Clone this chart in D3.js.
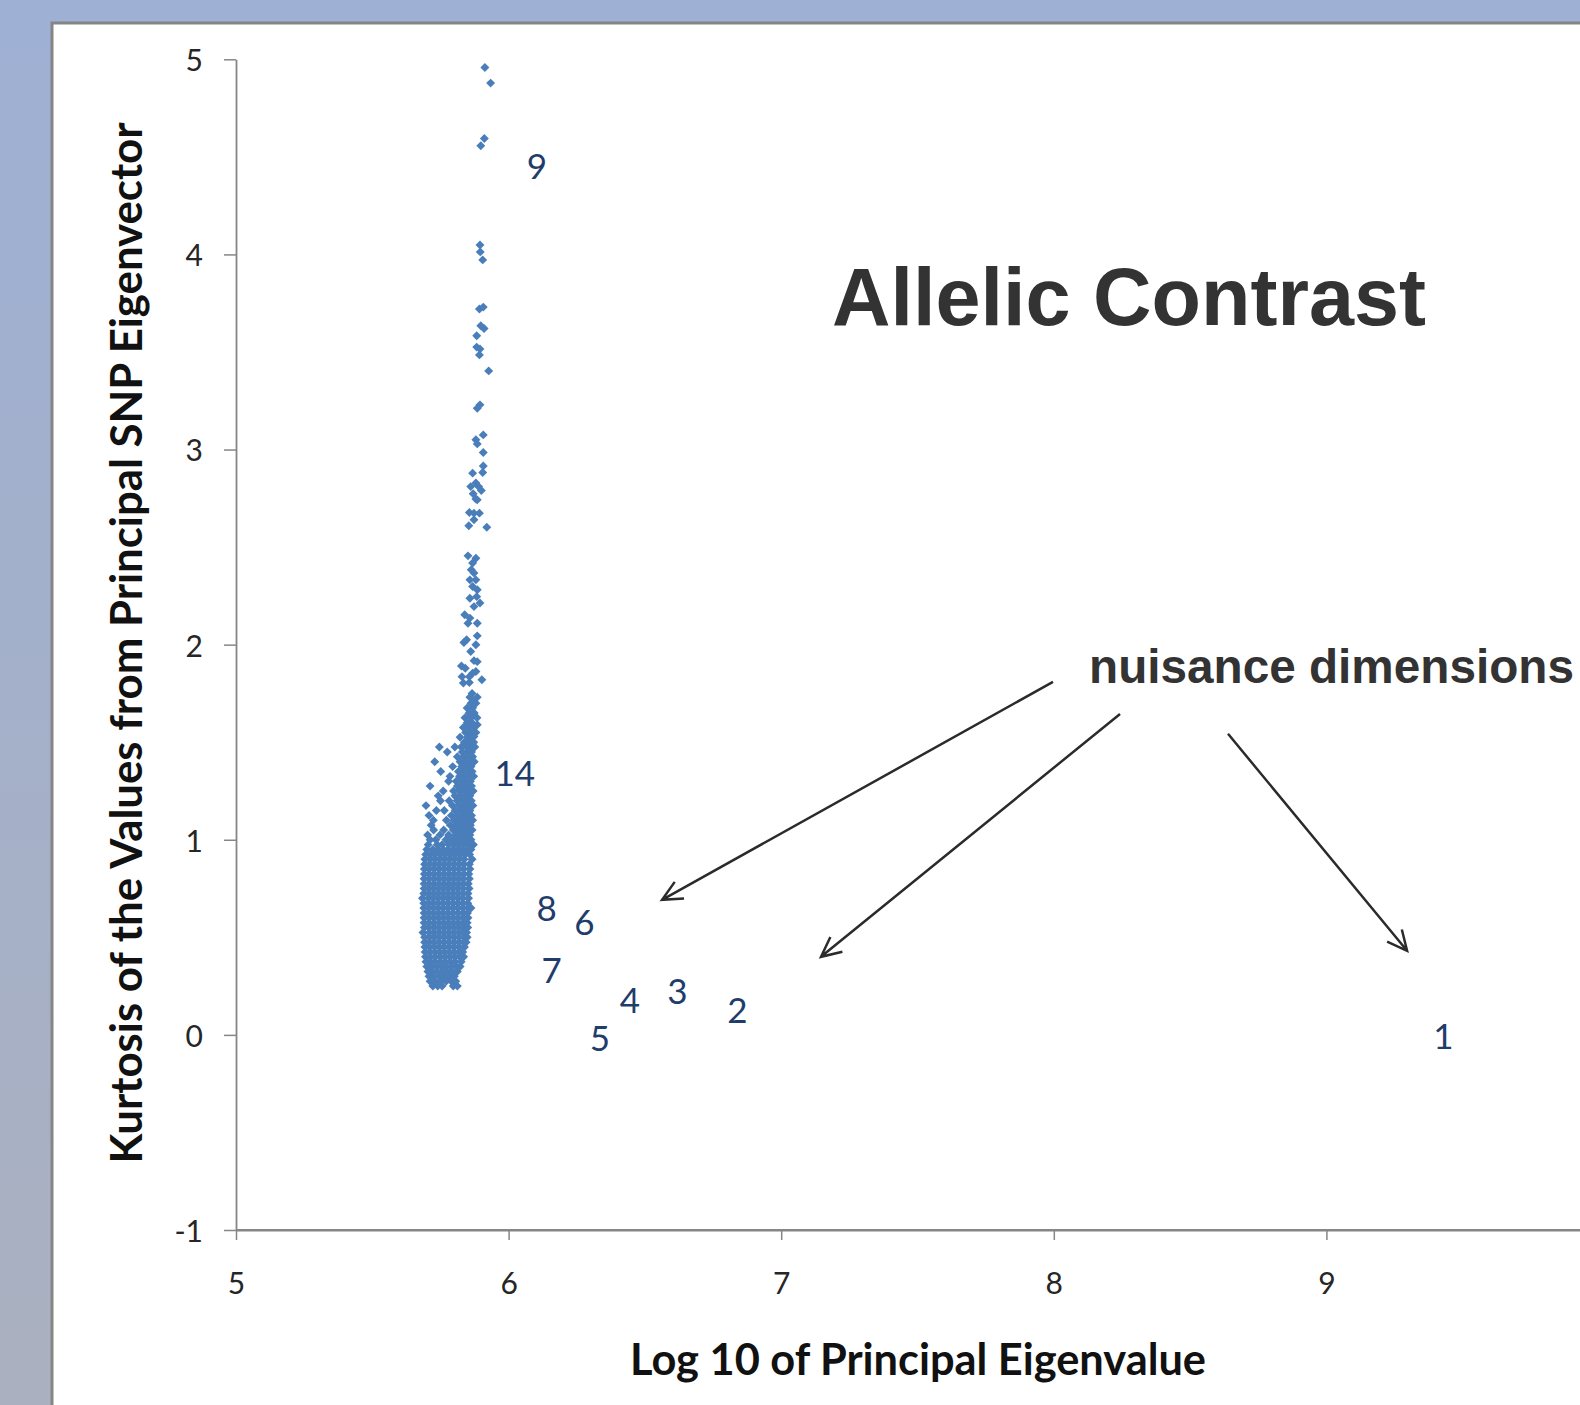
<!DOCTYPE html>
<html>
<head>
<meta charset="utf-8">
<script src="https://cdn.jsdelivr.net/npm/d3@7"></script>
<style>
  html, body { margin: 0; padding: 0; overflow: hidden; }
  svg { display: block; }
</style>
</head>
<body>
<script>
// Log10 eigenvalue vs kurtosis, one diamond per SNP eigenvector.
// Sparse upper tail, read point by point.
const tailPoints = [
  [5.913,4.958],[5.934,4.878],[5.911,4.594],[5.898,4.557],[5.895,4.048],[5.896,4.013],[5.905,3.972],
  [5.893,3.720],[5.907,3.730],[5.898,3.634],[5.910,3.620],[5.883,3.583],[5.883,3.525],[5.895,3.515],
  [5.893,3.485],[5.927,3.403],[5.885,3.212],[5.895,3.229],[5.907,3.075],[5.880,3.050],[5.885,3.029],
  [5.907,2.985],[5.907,2.916],[5.905,2.882],[5.868,2.879],[5.861,2.810],[5.880,2.828],[5.890,2.810],
  [5.900,2.790],[5.870,2.773],[5.880,2.746],[5.885,2.742],[5.856,2.677],[5.873,2.674],[5.893,2.674],
  [5.873,2.640],[5.854,2.609],[5.920,2.602],[5.851,2.455],[5.880,2.443],[5.868,2.418],[5.863,2.384],
  [5.873,2.367],[5.858,2.332],[5.880,2.332],[5.868,2.298],[5.885,2.281],[5.858,2.238],[5.883,2.246],
  [5.895,2.213],[5.873,2.195],[5.839,2.153],[5.858,2.136],[5.885,2.110],[5.851,2.110],[5.885,2.045],
  [5.836,2.011],[5.846,2.025],[5.880,1.999],[5.861,1.965],[5.873,1.918],[5.885,1.913],[5.827,1.891],
  [5.841,1.879],[5.868,1.854],[5.880,1.862],[5.856,1.836],[5.829,1.836],[5.902,1.820],[5.834,1.803],
  [5.856,1.806],[5.858,1.731],[5.885,1.731],[5.871,1.708],[5.858,1.631],[5.846,1.580],[5.885,1.589],
  [5.858,1.546],[5.873,1.529]
];

// Upper part of the cluster: stray points on the left, a dense band on the right.
const bandRows = [
  [0.950, [5.700,5.722,5.741,5.760,5.778,5.797,5.815,5.833,5.851,5.862]],
  [0.975, [5.705,5.738,5.756,5.781,5.800,5.818,5.836,5.853,5.871]],
  [1.000, [5.712,5.733,5.770,5.793,5.811,5.829,5.846,5.862]],
  [1.025, [5.703,5.748,5.780,5.806,5.824,5.842,5.858]],
  [1.050, [5.725,5.762,5.797,5.815,5.833,5.850,5.866]],
  [1.075, [5.716,5.786,5.808,5.826,5.844,5.860]],
  [1.100, [5.724,5.772,5.800,5.818,5.836,5.853,5.868]],
  [1.125, [5.708,5.790,5.812,5.830,5.848,5.864]],
  [1.150, [5.735,5.764,5.804,5.824,5.841,5.858]],
  [1.175, [5.697,5.794,5.817,5.835,5.852,5.869]],
  [1.200, [5.750,5.782,5.811,5.829,5.846,5.863]],
  [1.225, [5.742,5.803,5.823,5.841,5.858]],
  [1.250, [5.760,5.798,5.818,5.836,5.853,5.870]],
  [1.275, [5.712,5.812,5.830,5.848,5.864]],
  [1.300, [5.780,5.808,5.826,5.843,5.860]],
  [1.325, [5.785,5.820,5.838,5.856,5.872]],
  [1.350, [5.751,5.816,5.834,5.851,5.866]],
  [1.375, [5.795,5.828,5.846,5.862]],
  [1.400, [5.729,5.822,5.840,5.858,5.874]],
  [1.425, [5.812,5.835,5.853,5.868]],
  [1.450, [5.775,5.830,5.848,5.864]],
  [1.475, [5.746,5.803,5.826,5.845,5.860,5.876]],
  [1.500, [5.838,5.856,5.872]],
  [1.525, [5.822,5.850,5.866]],
  [1.550, [5.842,5.860,5.880]],
  [1.575, [5.834,5.855,5.872]],
  [1.600, [5.848,5.866]],
  [1.625, [5.840,5.862,5.884]],
  [1.650, [5.855,5.874]],
  [1.675, [5.848,5.868]],
  [1.700, [5.862,5.880]],
  [1.750, [5.866]]
];

// Solid core of the cluster.
const coreRows = [
  [0.250, [5.722,5.740,5.756,5.797,5.812]],
  [0.275, [5.712,5.731,5.752,5.771,5.790,5.806]],
  [0.300, [5.708,5.724,5.745,5.763,5.780,5.801]],
  [0.325, [5.704,5.720,5.738,5.757,5.775,5.792,5.812]],
  [0.350, [5.700,5.717,5.735,5.753,5.770,5.789,5.806,5.822]],
  [0.375, [5.697,5.714,5.731,5.750,5.768,5.786,5.804,5.826]],
  [0.400, [5.695,5.712,5.730,5.748,5.766,5.784,5.802,5.820,5.835]],
  [0.425, [5.694,5.711,5.729,5.747,5.765,5.783,5.801,5.819,5.832]],
  [0.450, [5.693,5.710,5.728,5.746,5.764,5.782,5.800,5.818,5.838]],
  [0.475, [5.692,5.709,5.727,5.745,5.763,5.781,5.799,5.817,5.835,5.844]],
  [0.500, [5.692,5.710,5.728,5.746,5.764,5.782,5.800,5.818,5.836,5.848]],
  [0.525, [5.686,5.709,5.727,5.745,5.763,5.781,5.799,5.817,5.834,5.846]],
  [0.550, [5.691,5.708,5.726,5.744,5.762,5.780,5.798,5.816,5.833,5.850]],
  [0.575, [5.690,5.708,5.726,5.744,5.762,5.780,5.798,5.816,5.834,5.848]],
  [0.600, [5.690,5.707,5.725,5.743,5.761,5.779,5.797,5.815,5.833,5.851]],
  [0.625, [5.690,5.707,5.725,5.743,5.761,5.779,5.797,5.815,5.833,5.849]],
  [0.650, [5.689,5.706,5.724,5.742,5.760,5.778,5.796,5.814,5.832,5.852,5.862]],
  [0.675, [5.689,5.706,5.724,5.742,5.760,5.778,5.796,5.814,5.832,5.850]],
  [0.700, [5.684,5.706,5.724,5.742,5.760,5.778,5.796,5.814,5.832,5.853]],
  [0.725, [5.689,5.707,5.725,5.743,5.761,5.779,5.797,5.815,5.833,5.851]],
  [0.750, [5.690,5.707,5.725,5.743,5.761,5.779,5.797,5.815,5.833,5.855]],
  [0.775, [5.690,5.708,5.726,5.744,5.762,5.780,5.798,5.816,5.834,5.852]],
  [0.800, [5.690,5.708,5.726,5.744,5.762,5.780,5.798,5.816,5.834,5.856]],
  [0.825, [5.691,5.709,5.727,5.745,5.763,5.781,5.799,5.817,5.835,5.854]],
  [0.850, [5.691,5.709,5.727,5.745,5.763,5.781,5.799,5.817,5.835,5.858]],
  [0.875, [5.692,5.710,5.728,5.746,5.764,5.782,5.800,5.818,5.836,5.856]],
  [0.900, [5.693,5.711,5.729,5.747,5.765,5.783,5.801,5.819,5.837,5.866]],
  [0.925, [5.696,5.714,5.731,5.750,5.768,5.786,5.804,5.822,5.840,5.857]]
];

// Rank labels of the leading eigenvectors (text centre in data units).
const rankLabels = ["1", "2", "3", "4", "5", "6", "7", "8", "9", "14"];
const rankX = [9.429, 6.839, 6.619, 6.445, 6.335, 6.278, 6.158, 6.140, 6.104, 6.023];
const rankY = [-0.009, 0.128, 0.222, 0.179, -0.017, 0.576, 0.333, 0.649, 4.450, 1.338];

// Annotation arrows pointing at the nuisance dimensions, [x0, y0, x1, y1].
const arrows = [
  [7.997, 1.809, 6.563, 0.692],
  [8.243, 1.645, 7.146, 0.400],
  [8.639, 1.543, 9.296, 0.431]
];

const xTicks = [5, 6, 7, 8, 9];
const yTicks = [-1, 0, 1, 2, 3, 4, 5];

const width = 1580, height = 1405;

const rowsToPoints = rows => rows.flatMap(([y, xs]) => xs.map(x => [x, y]));
const points = [...rowsToPoints(coreRows), ...rowsToPoints(bandRows), ...tailPoints];

const x = d3.scaleLinear([5, 10], [236, 1599]);
const y = d3.scaleLinear([-1, 5], [1230, 59.3]);

const svg = d3.select("body").append("svg")
    .attr("width", width)
    .attr("height", height)
    .attr("viewBox", [0, 0, width, height]);

const grad = svg.append("defs").append("linearGradient")
    .attr("id", "bg")
    .attr("x1", 0).attr("y1", 0).attr("x2", 0).attr("y2", 1);
grad.append("stop").attr("offset", "0%").attr("stop-color", "#9eb0d4");
grad.append("stop").attr("offset", "100%").attr("stop-color", "#aab0bf");

svg.append("rect")
    .attr("width", width)
    .attr("height", height)
    .attr("fill", "url(#bg)");

// white slide panel, runs off the right and bottom edges
svg.append("rect")
    .attr("x", 52)
    .attr("y", 23)
    .attr("width", 1600)
    .attr("height", 1500)
    .attr("fill", "#fff")
    .attr("stroke", "#858585")
    .attr("stroke-width", 3);

const axisColor = "#868686";
const tickFont = "Lato, 'Open Sans', sans-serif";
const plain = d => String(d);

// x axis line runs on past the right edge, like the cropped original
svg.append("line")
    .attr("x1", x(5)).attr("x2", x(10))
    .attr("y1", y(-1)).attr("y2", y(-1))
    .attr("stroke", axisColor)
    .attr("stroke-width", 1.8);

const gx = svg.append("g")
    .attr("transform", `translate(0,${y(-1)})`)
    .call(d3.axisBottom(x).tickValues(xTicks).tickFormat(plain)
      .tickSize(10).tickSizeOuter(0).tickPadding(33));

const gy = svg.append("g")
    .attr("transform", `translate(${x(5)},0)`)
    .call(d3.axisLeft(y).tickValues(yTicks).tickFormat(plain)
      .tickSize(12).tickSizeOuter(0).tickPadding(21));

for (const g of [gx, gy]) {
  g.select(".domain").attr("stroke", axisColor).attr("stroke-width", 1.8);
  g.selectAll(".tick line").attr("stroke", axisColor).attr("stroke-width", 1.5);
  g.selectAll(".tick text")
      .attr("fill", "#262626")
      .attr("font-family", tickFont)
      .attr("font-size", 30);
}
gy.selectAll(".tick text").attr("dy", "0.38em");

// markers
const diamond = d3.symbol(d3.symbolSquare, 40);
svg.append("g")
    .attr("fill", "#4a7ebb")
  .selectAll("path")
  .data(points)
  .join("path")
    .attr("d", diamond)
    .attr("transform", d => `translate(${x(d[0])},${y(d[1])}) rotate(45)`);

// rank labels
svg.append("g")
    .attr("fill", "#1f3d6b")
    .attr("font-family", tickFont)
    .attr("font-size", 35)
    .attr("text-anchor", "middle")
  .selectAll("text")
  .data(rankLabels)
  .join("text")
    .attr("x", (d, i) => x(rankX[i]))
    .attr("y", (d, i) => y(rankY[i]))
    .attr("dy", "0.36em")
    .text(d => d);

// axis titles
svg.append("text")
    .attr("x", 918)
    .attr("y", 1375)
    .attr("text-anchor", "middle")
    .attr("font-family", tickFont)
    .attr("font-weight", "bold")
    .attr("font-size", 44)
    .attr("fill", "#111")
    .attr("textLength", 576)
    .attr("lengthAdjust", "spacingAndGlyphs")
    .text("Log 10 of Principal Eigenvalue");

svg.append("text")
    .attr("transform", "translate(142,643) rotate(-90)")
    .attr("text-anchor", "middle")
    .attr("font-family", tickFont)
    .attr("font-weight", "bold")
    .attr("font-size", 43)
    .attr("fill", "#111")
    .attr("textLength", 1041)
    .attr("lengthAdjust", "spacingAndGlyphs")
    .text("Kurtosis of the Values from Principal SNP Eigenvector");

// slide title and annotation
svg.append("text")
    .attr("x", 1129)
    .attr("y", 325)
    .attr("text-anchor", "middle")
    .attr("font-family", "'Liberation Sans', Arial, sans-serif")
    .attr("font-weight", "bold")
    .attr("font-size", 82)
    .attr("fill", "#333")
    .attr("textLength", 594)
    .attr("lengthAdjust", "spacingAndGlyphs")
    .text("Allelic Contrast");

svg.append("text")
    .attr("x", 1089)
    .attr("y", 683)
    .attr("font-family", "'Liberation Sans', Arial, sans-serif")
    .attr("font-weight", "bold")
    .attr("font-size", 48)
    .attr("fill", "#333")
    .attr("textLength", 485)
    .attr("lengthAdjust", "spacingAndGlyphs")
    .text("nuisance dimensions");

// arrows with open heads
const head = 22, spread = Math.PI / 7;
svg.append("g")
    .attr("stroke", "#2b2b2b")
    .attr("stroke-width", 2.5)
    .attr("fill", "none")
  .selectAll("path")
  .data(arrows)
  .join("path")
    .attr("d", ([a, b, c, d]) => {
      const x0 = x(a), y0 = y(b), x1 = x(c), y1 = y(d);
      const ang = Math.atan2(y0 - y1, x0 - x1);
      const p = d3.path();
      p.moveTo(x0, y0); p.lineTo(x1, y1);
      p.moveTo(x1 + head * Math.cos(ang - spread), y1 + head * Math.sin(ang - spread));
      p.lineTo(x1, y1);
      p.lineTo(x1 + head * Math.cos(ang + spread), y1 + head * Math.sin(ang + spread));
      return p.toString();
    });
</script>
</body>
</html>
